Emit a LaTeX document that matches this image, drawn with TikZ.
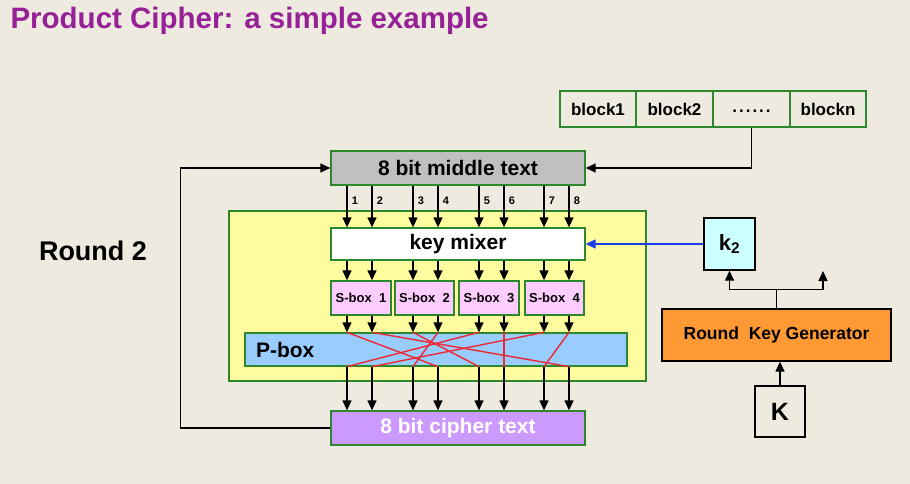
\documentclass[tikz,border=0pt]{standalone}
\usepackage{fontspec}
\setmainfont{Liberation Sans}
\usetikzlibrary{arrows.meta}
\definecolor{paper}{RGB}{238,234,223}
\definecolor{boxgreen}{RGB}{45,135,45}
\definecolor{titlepurple}{RGB}{150,32,150}
\definecolor{midgray}{RGB}{192,192,192}
\definecolor{roundyellow}{RGB}{255,252,160}
\definecolor{sboxpink}{RGB}{255,204,255}
\definecolor{pboxblue}{RGB}{153,204,255}
\definecolor{cipherlilac}{RGB}{204,153,255}
\definecolor{keycyan}{RGB}{204,255,255}
\definecolor{genorange}{RGB}{255,153,51}
\definecolor{wirered}{RGB}{240,40,50}
\definecolor{keyblue}{RGB}{25,60,235}

\begin{document}
\begin{tikzpicture}[x=1pt,y=-1pt,
  box/.style={draw=boxgreen,line width=1.3pt,inner sep=0pt,font=\bfseries},
  keybox/.style={draw=black,line width=1.3pt,inner sep=0pt,font=\bfseries},
  feed/.style={line width=1.3pt,-{Triangle[width=9pt,length=10pt]}},
  wire/.style={wirered,line width=1.4pt}]
  % background and title
  \fill[paper] (0,0) rectangle (910,484);
  \node[anchor=west,text=titlepurple,font=\fontsize{29.5}{34}\selectfont\bfseries] (title) at (7,21) {Product Cipher: a simple example};
  % plaintext blocks
  \node[box,minimum width=76pt,minimum height=36pt,font=\fontsize{17}{20}\selectfont\bfseries] (b1) at (598,109) {block1};
  \node[box,minimum width=77pt,minimum height=36pt,font=\fontsize{17}{20}\selectfont\bfseries] (b2) at (674.5,109) {block2};
  \node[box,minimum width=77pt,minimum height=36pt,text height=7pt,font=\fontsize{17}{20}\selectfont\bfseries] (bdots) at (751.5,109) {.\kern2pt.\kern2pt.\kern2pt.\kern2pt.\kern2pt.};
  \node[box,minimum width=76pt,minimum height=36pt,font=\fontsize{17}{20}\selectfont\bfseries] (bn) at (828,109) {blockn};
  % one round
  \node[box,fill=roundyellow,minimum width=417pt,minimum height=170pt] (round) at (437.5,296) {};
  \node[box,fill=midgray,minimum width=254pt,minimum height=34pt,font=\fontsize{21}{24}\selectfont\bfseries] (mid) at (458,168) {8 bit middle text};
  \node[box,fill=white,minimum width=254pt,minimum height=32pt,font=\fontsize{21}{24}\selectfont\bfseries] (mixer) at (458,244) {key mixer};
  \node[box,fill=sboxpink,minimum width=60pt,minimum height=34pt,font=\fontsize{13}{15}\selectfont\bfseries] (s1) at (361,298) {S-box~~1};
  \node[box,fill=sboxpink,minimum width=59pt,minimum height=34pt,font=\fontsize{13}{15}\selectfont\bfseries] (s2) at (424.5,298) {S-box~~2};
  \node[box,fill=sboxpink,minimum width=60pt,minimum height=34pt,font=\fontsize{13}{15}\selectfont\bfseries] (s3) at (489,298) {S-box~~3};
  \node[box,fill=sboxpink,minimum width=59pt,minimum height=34pt,font=\fontsize{13}{15}\selectfont\bfseries] (s4) at (554.5,298) {S-box~~4};
  \node[box,fill=pboxblue,minimum height=33pt,text width=360pt,inner xsep=11pt,align=left,font=\fontsize{21}{24}\selectfont\bfseries] (pbox) at (436,349.5) {P-box};
  \node[box,fill=cipherlilac,text=white,minimum width=254pt,minimum height=34pt,font=\fontsize{21}{24}\selectfont\bfseries] (cipher) at (458,428) {8 bit cipher text};
  \node[font=\fontsize{27}{31}\selectfont\bfseries] (rlabel) at (93,251) {Round 2};
  % key schedule
  \node[keybox,fill=keycyan,minimum width=51pt,minimum height=52pt,font=\fontsize{22}{26}\selectfont\bfseries] (k2) at (729.5,244) {k$_{\mathbf 2}$};
  \node[keybox,fill=genorange,minimum width=229pt,minimum height=52pt,font=\fontsize{17.5}{21}\selectfont\bfseries] (gen) at (776.5,335) {Round~ Key Generator};
  \node[keybox,minimum width=50pt,minimum height=51pt,font=\fontsize{25}{29}\selectfont\bfseries] (key) at (780,411.5) {K};
  % bit columns
  \foreach \x [count=\i] in {347,372,413,438,479,504,544,569}
    \coordinate (c\i) at (\x,0);
  \foreach \i in {1,...,8} {
    \draw[feed] (c\i |- mid.south) -- (c\i |- mixer.north)
      node[pos=0.37,right=1pt,font=\fontsize{11}{13}\selectfont\bfseries] {\i};
    \draw[feed] (c\i |- mixer.south) -- (c\i |- s1.north);
    \draw[feed] (c\i |- s1.south) -- (c\i |- pbox.north);
    \draw[feed] (c\i |- pbox.south) -- (c\i |- cipher.north);
  }
  % permutation wires
  \foreach \a/\b in {1/4,2/8,3/5,4/3,5/1,6/6,7/2,8/7}
    \draw[wire] (c\a |- pbox.north) -- (c\b |- pbox.south);
  % feedback and inputs
  \draw[feed] (cipher.west) -- ++(-150,0) |- (mid.west);
  \draw[feed] (bdots.south) |- (mid.east);
  \draw[feed,keyblue] (k2.west) -- (mixer.east);
  \draw[line width=1.3pt] (gen.north) -- ++(0,-19) coordinate (fork);
  \coordinate (spare) at (823,271);
  \draw[feed] (fork) -| (k2.south);
  \draw[feed] (fork) -| (spare);
  \draw[feed] (key.north) -- (key.north |- gen.south);
\end{tikzpicture}
\end{document}
